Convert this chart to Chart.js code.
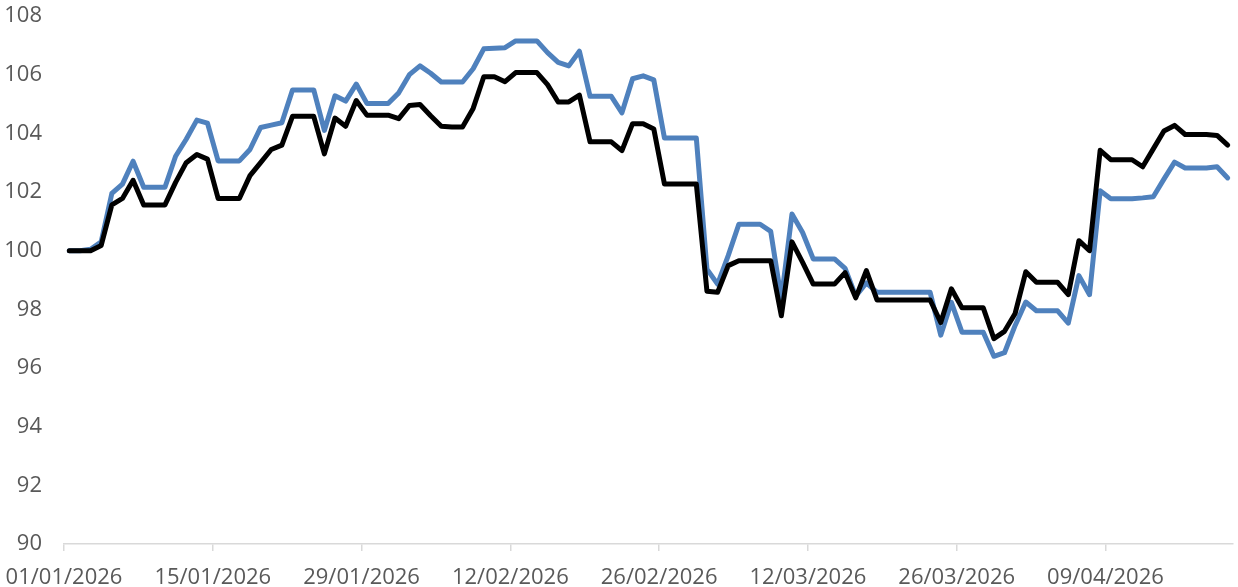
<!DOCTYPE html>
<html>
<head>
<meta charset="utf-8">
<script src="https://cdn.jsdelivr.net/npm/chart.js@4/dist/chart.umd.min.js"></script>
<style>
  html, body { margin: 0; padding: 0; background: #fff; }
  #wrap { width: 1238px; height: 587px; position: relative; }
</style>
</head>
<body>
<div id="wrap"><canvas id="chart"></canvas></div>
<script>
// one value per day, starting 01/01/2026
const seriesBlack = [
  100.0, 100.0, 100.0, 100.18, 101.56, 101.78, 102.4, 101.56, 101.56, 101.56,
  102.33, 103.0, 103.28, 103.12, 101.78, 101.78, 101.78, 102.56, 103.0, 103.45,
  103.6, 104.58, 104.58, 104.58, 103.3, 104.52, 104.24, 105.12, 104.62, 104.62,
  104.62, 104.5, 104.95, 104.98, 104.6, 104.24, 104.22, 104.22, 104.85, 105.93,
  105.93, 105.76, 106.07, 106.07, 106.07, 105.66, 105.07, 105.07, 105.3, 103.71,
  103.71, 103.71, 103.41, 104.33, 104.33, 104.15, 102.27, 102.27, 102.27, 102.27,
  98.62, 98.58, 99.49, 99.66, 99.66, 99.66, 99.66, 97.78, 100.3, 99.6,
  98.86, 98.86, 98.86, 99.25, 98.39, 99.32, 98.32, 98.32, 98.32, 98.32,
  98.32, 98.32, 97.55, 98.7, 98.05, 98.05, 98.05, 97.0, 97.25, 97.86,
  99.28, 98.92, 98.92, 98.92, 98.5, 100.34, 100.0, 103.42, 103.1, 103.1,
  103.1, 102.86, 103.47, 104.08, 104.27, 103.96, 103.96, 103.96, 103.93, 103.6
];

const seriesBlue = [
  100.0, 100.0, 100.05, 100.3, 101.95, 102.27, 103.05, 102.16, 102.16, 102.16,
  103.22, 103.8, 104.45, 104.35, 103.06, 103.06, 103.06, 103.45, 104.2, 104.28,
  104.36, 105.48, 105.48, 105.48, 104.1, 105.28, 105.1, 105.68, 105.02, 105.02,
  105.02, 105.38, 106.0, 106.3, 106.05, 105.75, 105.75, 105.75, 106.2, 106.88,
  106.9, 106.92, 107.15, 107.15, 107.15, 106.75, 106.42, 106.3, 106.8, 105.26,
  105.26, 105.26, 104.7, 105.86, 105.96, 105.82, 103.84, 103.84, 103.84, 103.84,
  99.37, 98.86, 99.83, 100.9, 100.9, 100.9, 100.66, 98.35, 101.25, 100.62,
  99.72, 99.72, 99.72, 99.4, 98.45, 98.9, 98.58, 98.58, 98.58, 98.58,
  98.58, 98.58, 97.12, 98.24, 97.22, 97.22, 97.22, 96.4, 96.52, 97.45,
  98.25, 97.95, 97.95, 97.95, 97.53, 99.15, 98.5, 102.04, 101.77, 101.77,
  101.77, 101.8, 101.84, 102.44, 103.02, 102.82, 102.82, 102.82, 102.86, 102.48
];

// x tick labels, every 14 days from the start
const tickLabels = ['01/01/2026', '15/01/2026', '29/01/2026', '12/02/2026',
  '26/02/2026', '12/03/2026', '26/03/2026', '09/04/2026'];
const tickStep = 14;

const yTicks = [90, 92, 94, 96, 98, 100, 102, 104, 106, 108];

const labelFont = { family: '"Open Sans", sans-serif', size: 22 };
const labelColor = '#595959';
const axisColor = '#d9d9d9';

function toPoints(values) {
  return values.map((v, i) => ({ x: i, y: v }));
}

const ctx = document.getElementById('chart').getContext('2d');
new Chart(ctx, {
  type: 'line',
  data: {
    datasets: [
      {
        data: toPoints(seriesBlack),
        borderColor: '#000000',
        borderWidth: 5,
        pointRadius: 0,
        tension: 0,
        borderJoinStyle: 'round',
        borderCapStyle: 'round'
      },
      {
        data: toPoints(seriesBlue),
        borderColor: '#4f81bd',
        borderWidth: 5,
        pointRadius: 0,
        tension: 0,
        borderJoinStyle: 'round',
        borderCapStyle: 'round'
      }
    ]
  },
  options: {
    responsive: true,
    maintainAspectRatio: false,
    animation: false,
    layout: { padding: { top: 16, right: 5, left: 0, bottom: 0 } },
    plugins: {
      legend: { display: false },
      tooltip: { enabled: false }
    },
    scales: {
      x: {
        type: 'linear',
        min: -0.5,
        max: seriesBlack.length - 0.5,
        afterBuildTicks: scale => {
          scale.ticks = tickLabels.map((_, k) => ({ value: -0.5 + k * tickStep }));
        },
        afterFit: scale => {
          scale.height = 43;
          scale.paddingLeft = 0;
          scale.paddingRight = 0;
        },
        ticks: {
          autoSkip: false,
          maxRotation: 0,
          padding: 14,
          color: labelColor,
          font: labelFont,
          callback: (value, index) => tickLabels[index]
        },
        grid: {
          drawOnChartArea: false,
          drawTicks: true,
          tickLength: 7,
          color: axisColor,
          lineWidth: 1.5
        },
        border: { display: true, color: axisColor, width: 1.5 }
      },
      y: {
        min: 90,
        max: 108,
        afterBuildTicks: scale => {
          scale.ticks = yTicks.map(v => ({ value: v }));
        },
        afterFit: scale => {
          scale.width = 64;
          scale.paddingTop = 0;
          scale.paddingBottom = 0;
        },
        ticks: {
          padding: 22,
          color: labelColor,
          font: labelFont
        },
        grid: { display: false, drawTicks: false },
        border: { display: false }
      }
    }
  }
});
</script>
</body>
</html>
